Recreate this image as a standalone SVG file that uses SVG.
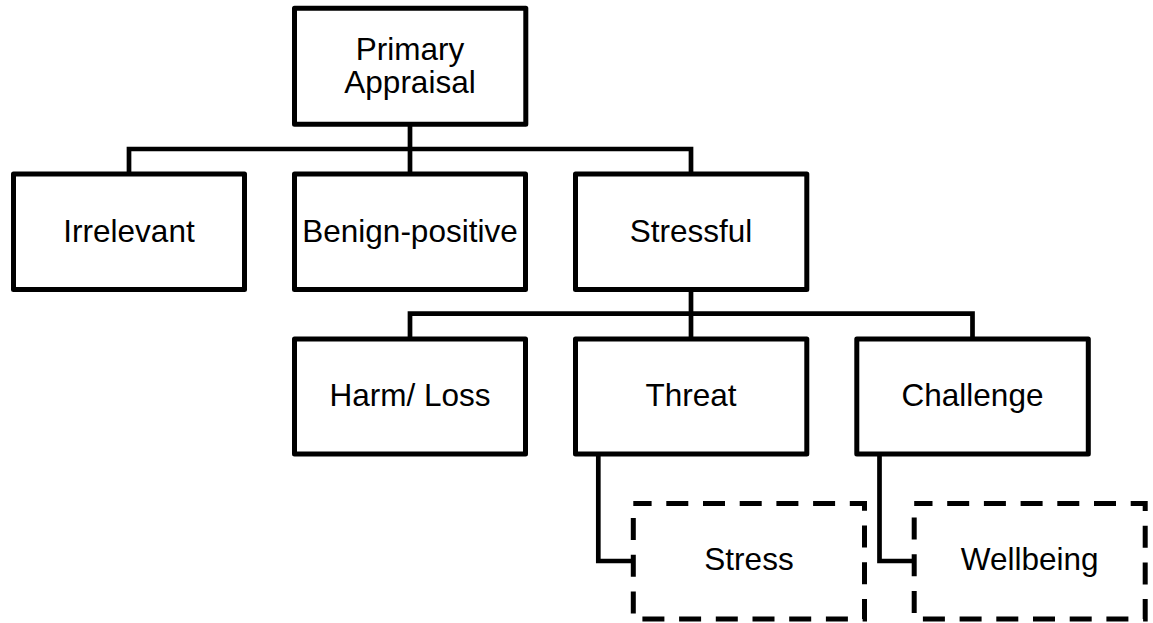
<svg xmlns="http://www.w3.org/2000/svg" width="1153" height="623" viewBox="0 0 1153 623">
  <style>
    .box { fill: #ffffff; stroke: #000000; stroke-width: 5; stroke-linejoin: round; }
    .dashed { fill: #ffffff; stroke: #000000; stroke-width: 5; stroke-dasharray: 22 14.7; stroke-dashoffset: 3.7; }
    .link { fill: none; stroke: #000000; stroke-width: 4.7; stroke-linejoin: miter; }
    .label { font-family: "Liberation Sans", Arial, Helvetica, sans-serif; font-size: 31.5px; fill: #000000; text-anchor: middle; }
  </style>

  <!-- connectors -->
  <g id="connectors">
    <path class="link" d="M410,124 V174"/>
    <path class="link" d="M129,174 V149 H691 V174"/>
    <path class="link" d="M691,289.5 V339"/>
    <path class="link" d="M410,339 V313.7 H972.5 V339"/>
    <path class="link" d="M598.3,454 V561 H633.3"/>
    <path class="link" d="M879.5,454 V561 H914.2"/>
  </g>

  <g id="primary-appraisal">
    <rect class="box" x="294.5" y="8.2" width="231.3" height="116"/>
    <text class="label" x="410" y="59.5">Primary</text>
    <text class="label" x="410" y="93">Appraisal</text>
  </g>

  <g id="irrelevant">
    <rect class="box" x="13.5" y="174" width="231" height="115.5"/>
    <text class="label" x="129" y="241.5">Irrelevant</text>
  </g>

  <g id="benign-positive">
    <rect class="box" x="294.5" y="174" width="231" height="115.5"/>
    <text class="label" x="410" y="241.5">Benign-positive</text>
  </g>

  <g id="stressful">
    <rect class="box" x="575.5" y="174" width="231.3" height="115.5"/>
    <text class="label" x="691" y="241.5">Stressful</text>
  </g>

  <g id="harm-loss">
    <rect class="box" x="294.5" y="339" width="231" height="115"/>
    <text class="label" x="410" y="406">Harm/ Loss</text>
  </g>

  <g id="threat">
    <rect class="box" x="575.5" y="339" width="231.3" height="115"/>
    <text class="label" x="691" y="406">Threat</text>
  </g>

  <g id="challenge">
    <rect class="box" x="856.8" y="339" width="231.5" height="115"/>
    <text class="label" x="972.5" y="406">Challenge</text>
  </g>

  <g id="stress">
    <rect class="dashed" x="633.3" y="503.5" width="231.2" height="115.5"/>
    <text class="label" x="749" y="570">Stress</text>
  </g>

  <g id="wellbeing">
    <rect class="dashed" x="914.2" y="503.5" width="231" height="115.5"/>
    <text class="label" x="1029.7" y="570">Wellbeing</text>
  </g>
</svg>
